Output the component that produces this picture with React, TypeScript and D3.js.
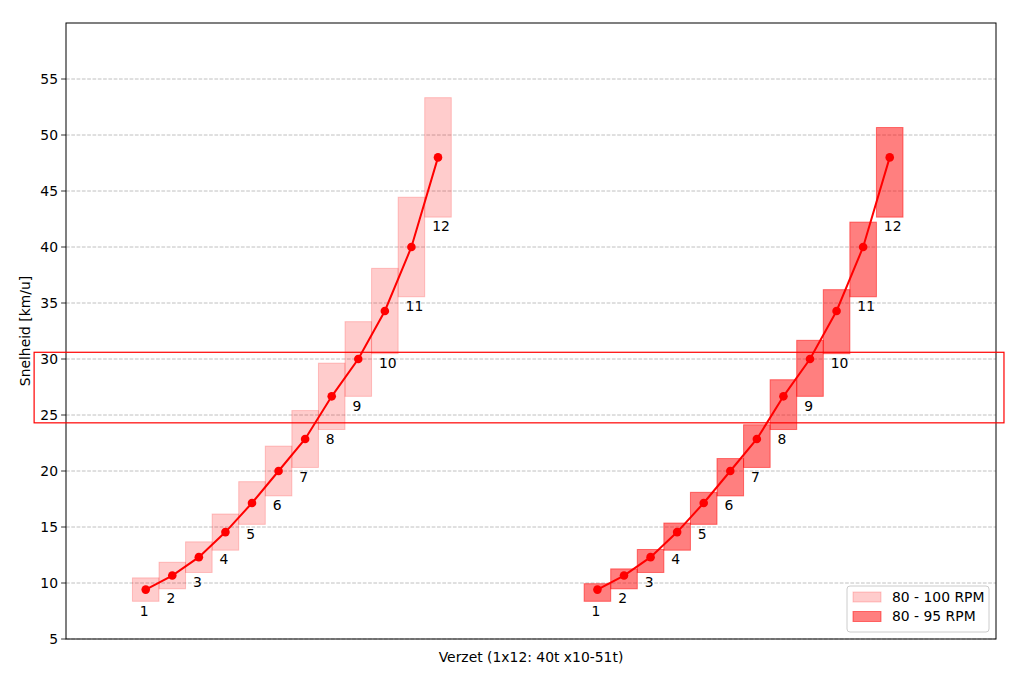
import React from "react";
import * as d3 from "d3";

const cogs = [51, 45, 39, 33, 28, 24, 21, 18, 16, 14, 12, 10];
const gearLabels = ["1", "2", "3", "4", "5", "6", "7", "8", "9", "10", "11", "12"];
const chainring = 40;
const speedFactor = 12; // km/u per (chainring/cog) at 90 RPM
const rpmCenter = 90;
const rangeA = [80, 100];
const rangeB = [80, 95];
const groupOffsets = [0, 17];
const yTicks = [5, 10, 15, 20, 25, 30, 35, 40, 45, 50, 55];
const legendLabels = ["80 - 100 RPM", "80 - 95 RPM"];
const highlightY = [24.3, 30.6];
const highlightX = [-4.2, 32.3];

const W = 1013, H = 676;
const M = { left: 66, right: 996, top: 23, bottom: 639 };
const FONT = "DejaVu Sans, sans-serif";
const FS = 13.9;

export default function App() {
  const x = d3.scaleLinear().domain([-3, 32]).range([M.left, M.right]);
  const y = d3.scaleLinear().domain([5, 60]).range([M.bottom, M.top]);
  const speeds = cogs.map((c) => (chainring / c) * speedFactor);
  const ranges = [rangeA, rangeB];
  const styles = [
    { fill: "rgba(255,0,0,0.2)", stroke: "rgba(255,0,0,0.2)" },
    { fill: "rgba(255,0,0,0.5)", stroke: "rgba(255,0,0,0.5)" },
  ];
  const line = d3.line<[number, number]>().x((d) => x(d[0])).y((d) => y(d[1]));

  return (
    <svg width={W} height={H} style={{ position: "absolute", left: 0, top: 0, background: "#fff" }} fontFamily={FONT}>
      <rect x={0} y={0} width={W} height={H} fill="#fff" />
      {yTicks.map((t) => (
        <line key={t} x1={M.left} x2={M.right} y1={y(t)} y2={y(t)} stroke="#b0b0b0" strokeWidth={0.8} strokeDasharray="3.7,1.6" />
      ))}
      {groupOffsets.map((off, gi) => {
        const [lo, hi] = ranges[gi];
        const st = styles[gi];
        const pts: [number, number][] = speeds.map((s, i) => [off + i, s]);
        return (
          <g key={gi}>
            {speeds.map((s, i) => {
              const low = (s * lo) / rpmCenter;
              const high = (s * hi) / rpmCenter;
              return (
                <rect key={i} x={x(off + i - 0.5)} width={x(1) - x(0)} y={y(high)} height={y(low) - y(high)}
                  fill={st.fill} stroke={st.stroke} strokeWidth={1} />
              );
            })}
            <path d={line(pts) || ""} fill="none" stroke="#ff0000" strokeWidth={2} />
            {pts.map((p, i) => (
              <circle key={i} cx={x(p[0])} cy={y(p[1])} r={4.3} fill="#ff0000" />
            ))}
            {speeds.map((s, i) => {
              const low = (s * lo) / rpmCenter;
              return (
                <text key={i} x={x(off + i - 0.22)} y={y(low - 0.3)} dy="0.78em" fontSize={FS} fill="#000">
                  {gearLabels[i]}
                </text>
              );
            })}
          </g>
        );
      })}
      <rect x={M.left} y={M.top} width={M.right - M.left} height={M.bottom - M.top} fill="none" stroke="#000" strokeWidth={1} />
      {yTicks.map((t) => (
        <g key={t}>
          <line x1={M.left - 4.9} x2={M.left} y1={y(t)} y2={y(t)} stroke="#000" strokeWidth={0.8} />
          <text x={M.left - 8} y={y(t)} dy="0.35em" textAnchor="end" fontSize={FS}>{t}</text>
        </g>
      ))}
      <text x={(M.left + M.right) / 2} y={M.bottom + 12} dy="0.78em" textAnchor="middle" fontSize={FS}>
        Verzet (1x12: 40t x10-51t)
      </text>
      <text transform={`translate(25,${(M.top + M.bottom) / 2}) rotate(-90)`} textAnchor="middle" dy="0.35em" fontSize={FS}>
        Snelheid [km/u]
      </text>
      <rect x={x(highlightX[0])} y={y(highlightY[1])} width={x(highlightX[1]) - x(highlightX[0])}
        height={y(highlightY[0]) - y(highlightY[1])} fill="none" stroke="#ff0000" strokeWidth={1.2} />
      <g transform="translate(847,586)">
        <rect x={0} y={0} width={142} height={46} rx={3} fill="rgba(255,255,255,0.8)" stroke="#cccccc" strokeWidth={1} />
        {legendLabels.map((l, i) => (
          <g key={l} transform={`translate(0,${i * 19.5})`}>
            <rect x={6} y={6} width={28} height={10} fill={styles[i].fill} stroke={styles[i].stroke} strokeWidth={1} />
            <text x={45} y={11} dy="0.35em" fontSize={FS}>{l}</text>
          </g>
        ))}
      </g>
    </svg>
  );
}
